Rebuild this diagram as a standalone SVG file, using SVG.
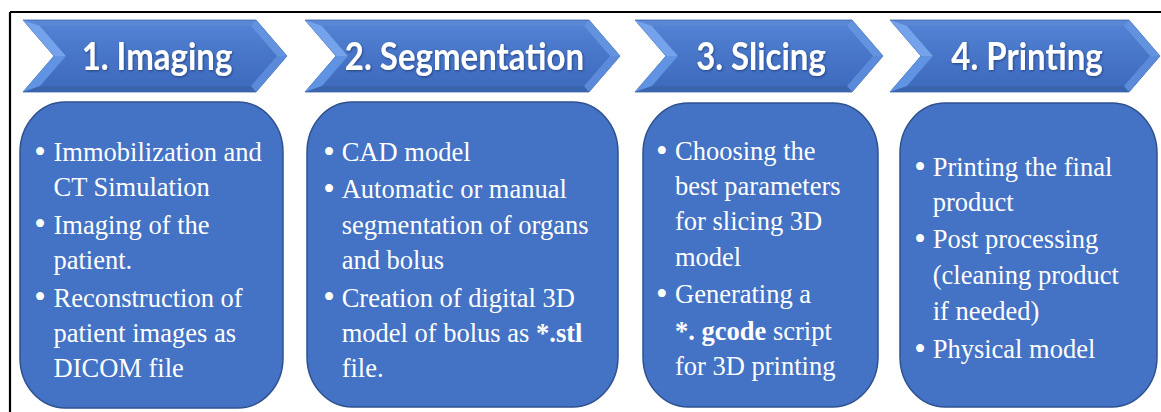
<svg xmlns="http://www.w3.org/2000/svg" width="1161" height="412" viewBox="0 0 1161 412">
<style>
.frame{stroke:#000;stroke-width:2.2;fill:none}
.outer{fill:#5A87D5;stroke:#3D63A6;stroke-width:0.8}
.ul{fill:#74A2EB}
.ll{fill:#6094E2}
.ur{fill:#6392DF}
.lr{fill:#5C8ADA}
.bt{fill:#3B64AF}
.inner{fill:url(#face)}
.head{font-family:Lato,"Open Sans",sans-serif;font-weight:bold;font-size:33px;fill:#fff;text-anchor:middle;filter:url(#shadow)}
.box{fill:#4472C4;stroke:#2F528F;stroke-width:1.5}
.txt{font-family:"Liberation Serif","Times New Roman",serif;font-size:26.5px;fill:#fff}
.bul{font-size:33px}
.b{font-weight:bold}
</style>
<defs>
<linearGradient id="face" x1="0" y1="0" x2="0" y2="1">
<stop offset="0" stop-color="#5282D3"/>
<stop offset="0.45" stop-color="#4876C9"/>
<stop offset="1" stop-color="#3F6BBE"/>
</linearGradient>
<filter id="shadow" x="-10%" y="-20%" width="120%" height="150%">
<feDropShadow dx="0.8" dy="1" stdDeviation="1" flood-color="#0A1E46" flood-opacity="0.55"/>
</filter>
</defs>
<rect width="1161" height="412" fill="#fff"/>
<path class="frame" d="M10,12 H1161 M10,12 V412"/>
<g id="connectors"/>

<g id="step1-header">
<polygon class="outer" points="23,20 256,20 287,56 256,92 23,92 54,56"/>
<polygon class="ul" points="23,20 40,26 66,56 54,56"/>
<polygon class="ll" points="54,56 66,56 40,86 23,92"/>
<polygon class="ur" points="256,20 287,56 277,56 251,26"/>
<polygon class="lr" points="287,56 256,92 251,86 277,56"/>
<polygon class="bt" points="23,92 256,92 251,86 40,86"/>
<polygon class="inner" points="40,26 251,26 277,56 251,86 40,86 66,56"/>
<text class="head" transform="translate(157,70) scale(1,1.14)">1. Imaging</text>
</g>

<g id="step2-header">
<polygon class="outer" points="305,20 589,20 620,56 589,92 305,92 336,56"/>
<polygon class="ul" points="305,20 322,26 348,56 336,56"/>
<polygon class="ll" points="336,56 348,56 322,86 305,92"/>
<polygon class="ur" points="589,20 620,56 610,56 584,26"/>
<polygon class="lr" points="620,56 589,92 584,86 610,56"/>
<polygon class="bt" points="305,92 589,92 584,86 322,86"/>
<polygon class="inner" points="322,26 584,26 610,56 584,86 322,86 348,56"/>
<text class="head" transform="translate(464.5,70) scale(1,1.14)">2. Segmentation</text>
</g>

<g id="step3-header">
<polygon class="outer" points="635,20 852,20 883,56 852,92 635,92 666,56"/>
<polygon class="ul" points="635,20 652,26 678,56 666,56"/>
<polygon class="ll" points="666,56 678,56 652,86 635,92"/>
<polygon class="ur" points="852,20 883,56 873,56 847,26"/>
<polygon class="lr" points="883,56 852,92 847,86 873,56"/>
<polygon class="bt" points="635,92 852,92 847,86 652,86"/>
<polygon class="inner" points="652,26 847,26 873,56 847,86 652,86 678,56"/>
<text class="head" transform="translate(761,70) scale(1,1.14)">3. Slicing</text>
</g>

<g id="step4-header">
<polygon class="outer" points="890,20 1129,20 1160,56 1129,92 890,92 921,56"/>
<polygon class="ul" points="890,20 907,26 933,56 921,56"/>
<polygon class="ll" points="921,56 933,56 907,86 890,92"/>
<polygon class="ur" points="1129,20 1160,56 1150,56 1124,26"/>
<polygon class="lr" points="1160,56 1129,92 1124,86 1150,56"/>
<polygon class="bt" points="890,92 1129,92 1124,86 907,86"/>
<polygon class="inner" points="907,26 1124,26 1150,56 1124,86 907,86 933,56"/>
<text class="head" transform="translate(1027,70) scale(1,1.14)">4. Printing</text>
</g>

<g id="step1-box">
<rect class="box" x="20" y="102" width="263" height="306" rx="45" ry="50"/>
<g class="txt">
<text class="bul" x="34.2" y="162.9">•</text><text x="53.5" y="161">Immobilization and</text>
<text x="53.5" y="196">CT Simulation</text>
<text class="bul" x="34.2" y="235.4">•</text><text x="53.5" y="233.5">Imaging of the</text>
<text x="53.5" y="268.5">patient.</text>
<text class="bul" x="34.2" y="308.4">•</text><text x="53.5" y="306.5">Reconstruction of</text>
<text x="53.5" y="342">patient images as</text>
<text x="53.5" y="377">DICOM file</text>
</g>
</g>

<g id="step2-box">
<rect class="box" x="307" y="102" width="311" height="305" rx="45" ry="50"/>
<g class="txt">
<text class="bul" x="323.2" y="162.9">•</text><text x="341.7" y="161">CAD model</text>
<text class="bul" x="323.2" y="199.9">•</text><text x="341.7" y="198">Automatic or manual</text>
<text x="341.7" y="233.5">segmentation of organs</text>
<text x="341.7" y="269">and bolus</text>
<text class="bul" x="323.2" y="308.4">•</text><text x="341.7" y="306.5">Creation of digital 3D</text>
<text x="341.7" y="342">model of bolus as <tspan class="b">*.stl</tspan></text>
<text x="341.7" y="377">file.</text>
</g>
</g>

<g id="step3-box">
<rect class="box" x="643" y="103" width="235" height="304" rx="45" ry="50"/>
<g class="txt">
<text class="bul" x="655.9" y="161.9">•</text><text x="675" y="160">Choosing the</text>
<text x="675" y="195">best parameters</text>
<text x="675" y="230">for slicing 3D</text>
<text x="675" y="265.5">model</text>
<text class="bul" x="655.9" y="304.9">•</text><text x="675" y="303">Generating a</text>
<text x="675" y="340"><tspan class="b">*. gcode</tspan> script</text>
<text x="675" y="375">for 3D printing</text>
</g>
</g>

<g id="step4-box">
<rect class="box" x="900" y="103" width="257" height="304" rx="45" ry="50"/>
<g class="txt">
<text class="bul" x="914.2" y="177.9">•</text><text x="932.7" y="176">Printing the final</text>
<text x="932.7" y="210.5">product</text>
<text class="bul" x="914.2" y="249.9">•</text><text x="932.7" y="248">Post processing</text>
<text x="932.7" y="283.5">(cleaning product</text>
<text x="932.7" y="320">if needed)</text>
<text class="bul" x="914.2" y="359.9">•</text><text x="932.7" y="358">Physical model</text>
</g>
</g>
</svg>
